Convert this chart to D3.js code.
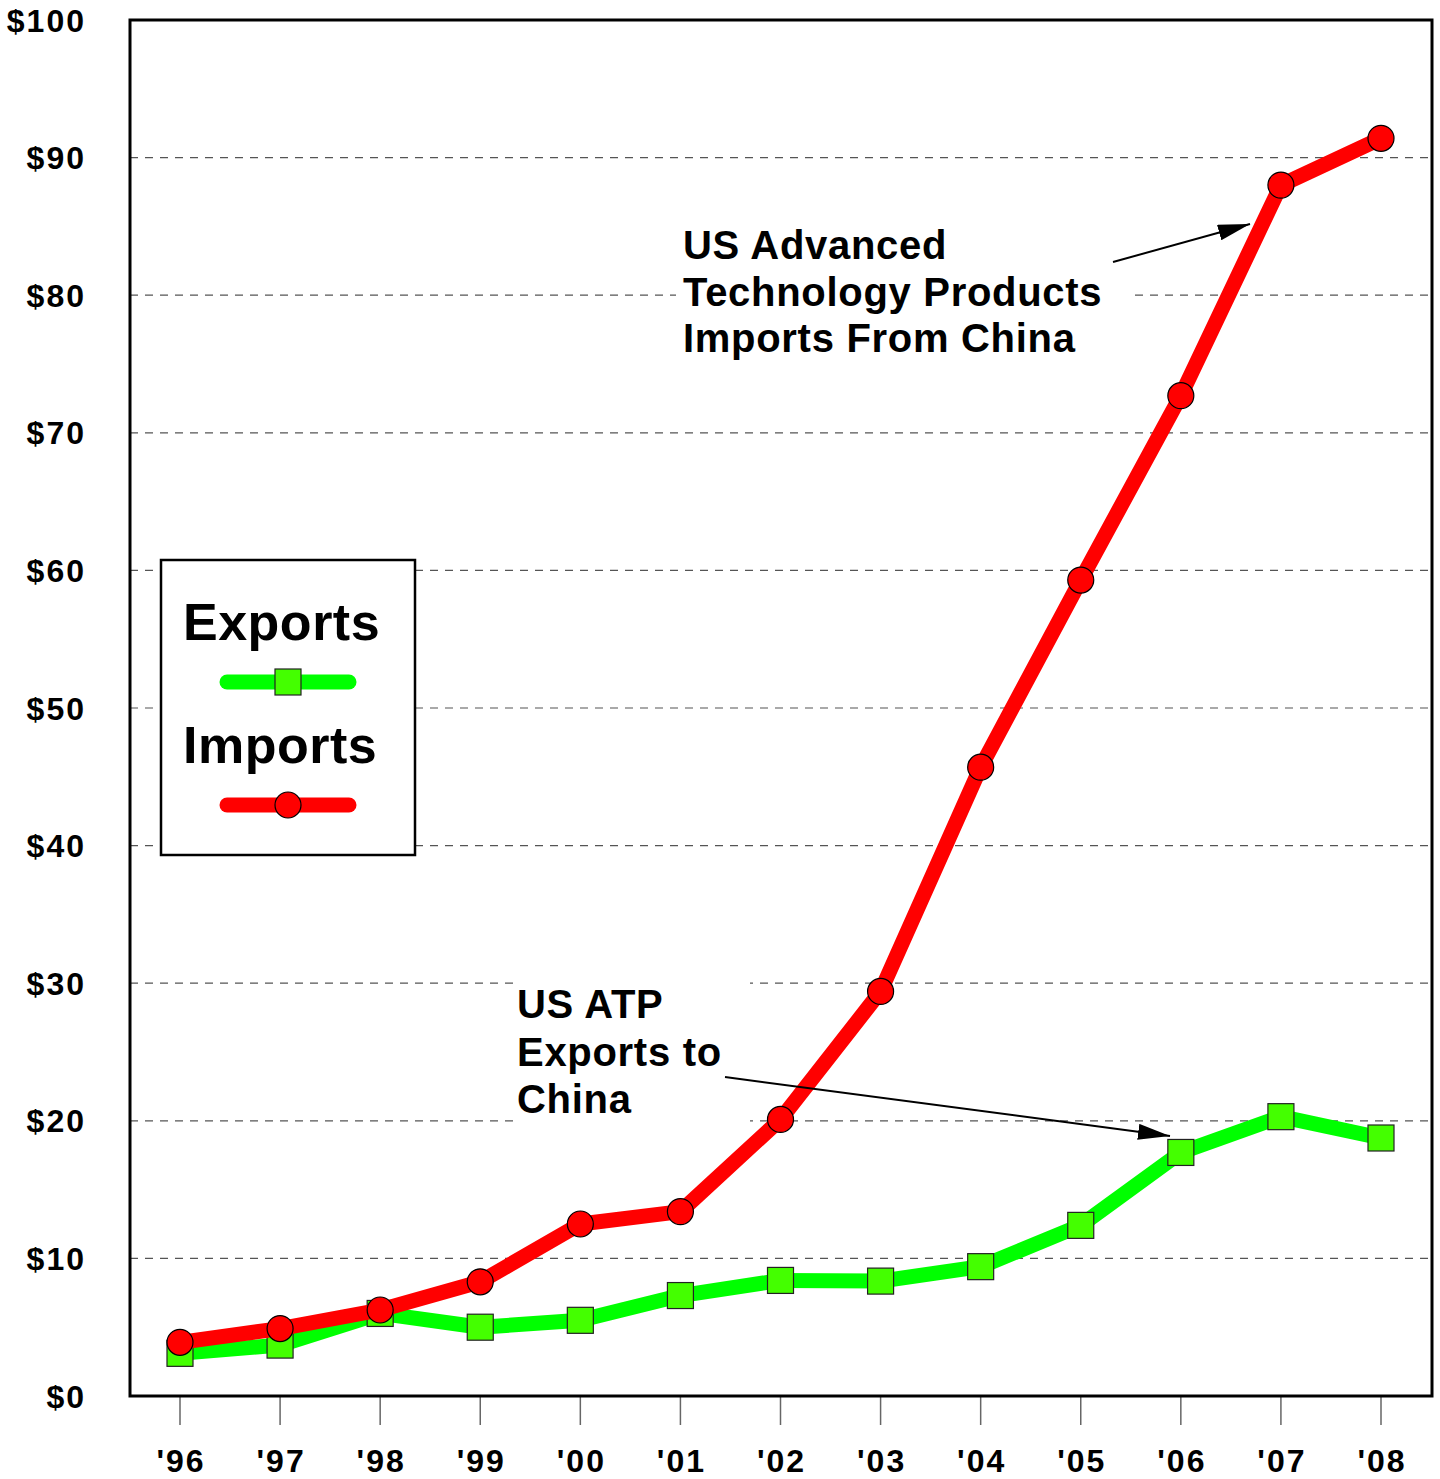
<!DOCTYPE html>
<html><head><meta charset="utf-8">
<script src="https://cdn.jsdelivr.net/npm/d3@7"></script>
<style>body{margin:0;background:#fff}svg{display:block}text{font-family:"Liberation Sans",Arial,sans-serif;font-weight:bold}</style>
</head><body><svg id="c" width="1440" height="1479"></svg>
<script>
const years = ["'96","'97","'98","'99","'00","'01","'02","'03","'04","'05","'06","'07","'08"];
const exportsVals = [3.1,3.7,6.0,5.0,5.5,7.3,8.4,8.35,9.4,12.4,17.7,20.3,18.75];
const importsVals = [3.9,4.9,6.25,8.3,12.5,13.4,20.1,29.4,45.7,59.3,72.7,88.0,91.4];
const yTicks = [0,10,20,30,40,50,60,70,80,90,100];
const importsNote = ["US Advanced","Technology Products","Imports From China"];
const exportsNote = ["US ATP","Exports to","China"];

const svg = d3.select("#c");
const L=130,R=1432,T=20,B=1396;
const x = d3.scalePoint().domain(years).range([180,1381]);
const y = d3.scaleLinear().domain([0,100]).range([B,T]);

const defs = svg.append("defs");
defs.append("marker").attr("id","ah").attr("viewBox","0 0 32 16").attr("refX",32).attr("refY",8)
  .attr("markerWidth",32).attr("markerHeight",16).attr("markerUnits","userSpaceOnUse").attr("orient","auto")
  .append("path").attr("d","M0,0L32,8L0,16z").attr("fill","#000");

// gridlines
svg.append("g").selectAll("line").data(yTicks.filter(d=>d>0&&d<100)).join("line")
  .attr("x1",L).attr("x2",R).attr("y1",d=>y(d)).attr("y2",d=>y(d))
  .attr("stroke","#555").attr("stroke-width",1.2).attr("stroke-dasharray","8,7");

// y labels
svg.append("g").selectAll("text").data(yTicks).join("text")
  .attr("x",86).attr("y",d=>y(d)).attr("dy","0.36em").attr("text-anchor","end")
  .attr("font-size",32).attr("letter-spacing",2).text(d=>"$"+d);

// x ticks and labels
const xa = svg.append("g");
xa.selectAll("line").data(years).join("line")
  .attr("x1",d=>x(d)).attr("x2",d=>x(d)).attr("y1",B).attr("y2",B+29)
  .attr("stroke","#666").attr("stroke-width",1.5);
xa.selectAll("text").data(years).join("text")
  .attr("x",d=>x(d)+1).attr("y",1472).attr("text-anchor","middle").attr("font-size",32)
  .attr("letter-spacing",2).text(d=>d);

// annotation white boxes
svg.append("rect").attr("x",676).attr("y",222).attr("width",454).attr("height",140).attr("fill","#fff");
svg.append("rect").attr("x",516).attr("y",980).attr("width",234).attr("height",146).attr("fill","#fff");

// frame
svg.append("rect").attr("x",L).attr("y",T).attr("width",R-L).attr("height",B-T)
  .attr("fill","none").attr("stroke","#000").attr("stroke-width",3);

const line = d3.line().x((d,i)=>x(years[i])).y(d=>y(d));

// exports
svg.append("path").attr("d",line(exportsVals)).attr("fill","none").attr("stroke","#00ff00")
  .attr("stroke-width",15).attr("stroke-linejoin","round").attr("stroke-linecap","round");
svg.append("g").selectAll("rect").data(exportsVals).join("rect")
  .attr("x",(d,i)=>x(years[i])-13).attr("y",d=>y(d)-13).attr("width",26).attr("height",26)
  .attr("fill","#44ff00").attr("stroke","#222").attr("stroke-width",1.2);

// imports
svg.append("path").attr("d",line(importsVals)).attr("fill","none").attr("stroke","#ff0000")
  .attr("stroke-width",15).attr("stroke-linejoin","round").attr("stroke-linecap","round");
svg.append("g").selectAll("circle").data(importsVals).join("circle")
  .attr("cx",(d,i)=>x(years[i])).attr("cy",d=>y(d)).attr("r",13)
  .attr("fill","#ff0000").attr("stroke","#000").attr("stroke-width",1.2);

// annotations
svg.append("text").attr("font-size",40).attr("letter-spacing",0.7).selectAll("tspan").data(importsNote).join("tspan")
  .attr("x",683).attr("y",(d,i)=>259+i*46.5).text(d=>d);
svg.append("text").attr("font-size",40).attr("letter-spacing",0.7).selectAll("tspan").data(exportsNote).join("tspan")
  .attr("x",517).attr("y",(d,i)=>1018+i*47.5).text(d=>d);

svg.append("line").attr("x1",1113).attr("y1",262).attr("x2",1250).attr("y2",224)
  .attr("stroke","#000").attr("stroke-width",2).attr("marker-end","url(#ah)");
svg.append("line").attr("x1",725).attr("y1",1077).attr("x2",1170).attr("y2",1136)
  .attr("stroke","#000").attr("stroke-width",2).attr("marker-end","url(#ah)");

// legend
const lg = svg.append("g");
lg.append("rect").attr("x",161).attr("y",560).attr("width",254).attr("height",295)
  .attr("fill","#fff").attr("stroke","#000").attr("stroke-width",2.5);
lg.append("text").attr("x",183).attr("y",640).attr("font-size",52).attr("letter-spacing",0.5).text("Exports");
lg.append("line").attr("x1",227).attr("x2",349).attr("y1",682).attr("y2",682)
  .attr("stroke","#00ff00").attr("stroke-width",15).attr("stroke-linecap","round");
lg.append("rect").attr("x",275).attr("y",669).attr("width",26).attr("height",26)
  .attr("fill","#44ff00").attr("stroke","#222").attr("stroke-width",1.2);
lg.append("text").attr("x",183).attr("y",763).attr("font-size",52).attr("letter-spacing",0.5).text("Imports");
lg.append("line").attr("x1",227).attr("x2",349).attr("y1",805).attr("y2",805)
  .attr("stroke","#ff0000").attr("stroke-width",15).attr("stroke-linecap","round");
lg.append("circle").attr("cx",288).attr("cy",805).attr("r",13)
  .attr("fill","#ff0000").attr("stroke","#000").attr("stroke-width",1.2);
</script></body></html>
